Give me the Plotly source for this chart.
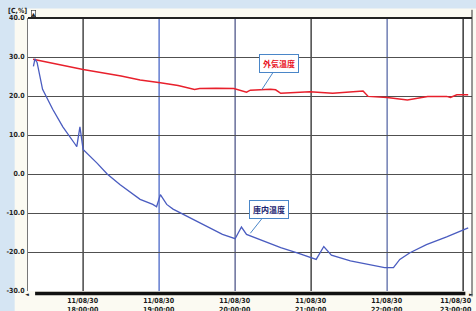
import plotly.graph_objects as go

# ---------------- data ----------------
red_times = ["2011-08-30 17:20:30", "2011-08-30 17:40", "2011-08-30 18:00", "2011-08-30 18:30",
             "2011-08-30 18:45", "2011-08-30 19:01", "2011-08-30 19:15", "2011-08-30 19:28",
             "2011-08-30 19:32", "2011-08-30 19:45", "2011-08-30 19:59", "2011-08-30 20:09",
             "2011-08-30 20:12", "2011-08-30 20:28", "2011-08-30 20:32", "2011-08-30 20:36",
             "2011-08-30 20:59", "2011-08-30 21:17", "2011-08-30 21:41", "2011-08-30 21:45",
             "2011-08-30 22:00", "2011-08-30 22:16", "2011-08-30 22:32", "2011-08-30 22:47",
             "2011-08-30 22:50", "2011-08-30 22:55", "2011-08-30 23:04"]
red_values = [29.4, 28.1, 26.8, 25.1,
              24.1, 23.4, 22.7, 21.7,
              21.9, 22.0, 21.9, 21.0,
              21.5, 21.7, 21.6, 20.7,
              21.1, 20.7, 21.3, 19.9,
              19.6, 19.0, 19.9, 19.9,
              19.6, 20.3, 20.3]

blue_times = ["2011-08-30 17:20:47", "2011-08-30 17:22", "2011-08-30 17:23:40", "2011-08-30 17:28",
              "2011-08-30 17:36", "2011-08-30 17:44", "2011-08-30 17:54", "2011-08-30 17:55",
              "2011-08-30 17:57:30", "2011-08-30 17:59:30", "2011-08-30 18:00", "2011-08-30 18:11",
              "2011-08-30 18:19", "2011-08-30 18:29", "2011-08-30 18:45", "2011-08-30 18:55",
              "2011-08-30 18:58", "2011-08-30 19:01", "2011-08-30 19:06", "2011-08-30 19:11",
              "2011-08-30 19:24", "2011-08-30 19:38", "2011-08-30 19:50", "2011-08-30 20:00",
              "2011-08-30 20:05", "2011-08-30 20:09", "2011-08-30 20:22", "2011-08-30 20:36",
              "2011-08-30 20:49", "2011-08-30 21:02", "2011-08-30 21:04", "2011-08-30 21:10",
              "2011-08-30 21:16", "2011-08-30 21:31", "2011-08-30 21:44", "2011-08-30 21:58",
              "2011-08-30 22:05", "2011-08-30 22:10", "2011-08-30 22:18", "2011-08-30 22:31",
              "2011-08-30 22:47", "2011-08-30 23:04"]
blue_values = [27.6, 29.5, 28.6, 21.7,
               16.6, 12.1, 7.5, 7.0,
               12.1, 7.3, 6.3, 2.8,
               0.0, -2.7, -6.5, -7.8,
               -8.4, -5.3, -7.8, -9.0,
               -11.2, -13.4, -15.5, -16.6,
               -13.6, -15.5, -17.2, -18.9,
               -20.2, -21.7, -21.9, -18.6,
               -20.8, -22.3, -23.1, -24.0,
               -24.0, -21.9, -20.2, -18.1,
               -16.1, -13.8]

y_tick_vals = [40, 30, 20, 10, 0, -10, -20, -30]
y_tick_text = ["40.0", "30.0", "20.0", "10.0", "0.0", "-10.0", "-20.0", "-30.0"]

x_tick_times = ["2011-08-30 18:00", "2011-08-30 19:00", "2011-08-30 20:00",
                "2011-08-30 21:00", "2011-08-30 22:00", "2011-08-30 23:00"]
x_tick_labels = ["11/08/30<br>18:00:00", "11/08/30<br>19:00:00", "11/08/30<br>20:00:00",
                 "11/08/30<br>21:00:00", "11/08/30<br>22:00:00", "11/08/30<br>23:00:00"]
vgrid_colors = ["#2a2a2a", "#4a68c8", "#50588a", "#2a2a2a", "#5a6aa8", "#1a1a1a"]

outside_label = "外気温度"
inside_label = "庫内温度"

# ---------------- figure ----------------
fig = go.Figure()

fig.add_shape(type="rect", xref="paper", yref="paper", x0=-0.03, x1=1.02, y0=-0.08, y1=1.035,
              fillcolor="#fbfaf2", line=dict(width=0), layer="below")
fig.add_shape(type="rect", xref="paper", yref="paper", x0=0, x1=1, y0=0, y1=1,
              fillcolor="white", line=dict(width=0), layer="below")

for t, c in zip(x_tick_times, vgrid_colors):
    fig.add_shape(type="line", xref="x", yref="paper", x0=t, x1=t, y0=0, y1=1,
                  line=dict(color=c, width=1.3), layer="below")

fig.add_trace(go.Scatter(x=red_times, y=red_values, mode="lines",
                         line=dict(color="#e8202c", width=1.5), name=outside_label))
fig.add_trace(go.Scatter(x=blue_times, y=blue_values, mode="lines",
                         line=dict(color="#4a5cc0", width=1.3), name=inside_label))

fig.add_shape(type="line", xref="paper", yref="paper", x0=0, x1=1, y0=1, y1=1,
              line=dict(color="#222", width=2))
fig.add_shape(type="rect", xref="paper", yref="paper", x0=0.016, x1=0.985, y0=-0.016, y1=-0.003,
              fillcolor="#111", line=dict(width=0))
fig.add_shape(type="line", xref="paper", yref="paper", x0=1.0, x1=1.0, y0=-0.02, y1=1.03,
              line=dict(color="#333", width=1))

label_font = dict(size=7, color="#1a1a1a",
                  family="DejaVu Sans Condensed, Liberation Sans Narrow, sans-serif")
annotations = []
for t, lab in zip(x_tick_times, x_tick_labels):
    shift = -7 if t == x_tick_times[-1] else 0
    annotations.append(dict(x=t, y=-0.016, xref="x", yref="paper",
                            text="<b>" + lab.replace("<br>", "</b><br><b>") + "</b>",
                            showarrow=False, xanchor="center", yanchor="top", xshift=shift,
                            font=label_font, align="center"))

annotations.append(dict(x=-0.05, y=1.003, xref="paper", yref="paper", text="<b>[C,%]</b>",
                        showarrow=False, xanchor="left", yanchor="bottom", font=label_font))
annotations.append(dict(x=0.006, y=1.003, xref="paper", yref="paper", text="<b>▲</b>",
                        showarrow=False, xanchor="left", yanchor="bottom",
                        font=dict(size=5, color="#222", family="DejaVu Sans"),
                        bordercolor="#222", borderwidth=0.6, borderpad=0, bgcolor="white"))
annotations.append(dict(x=-0.012, y=-0.012, xref="paper", yref="paper", text="◄",
                        showarrow=False, xanchor="left", yanchor="middle",
                        font=dict(size=5, color="#222", family="DejaVu Sans")))
annotations.append(dict(x=0.988, y=-0.01, xref="paper", yref="paper", text="►",
                        showarrow=False, xanchor="left", yanchor="middle",
                        font=dict(size=5, color="#222", family="DejaVu Sans")))

annotations.append(dict(x="2011-08-30 20:21", y=21.6, xref="x", yref="y",
                        text="<b>" + outside_label + "</b>", showarrow=True, arrowhead=0,
                        arrowcolor="#4a86c8", arrowwidth=1, ax=17, ay=-26,
                        font=dict(size=8, color="#e8101c", family="Noto Sans CJK JP"),
                        bgcolor="white", bordercolor="#4a86c8", borderwidth=1, borderpad=3))
annotations.append(dict(x="2011-08-30 20:12", y=-15.2, xref="x", yref="y",
                        text="<b>" + inside_label + "</b>", showarrow=True, arrowhead=0,
                        arrowcolor="#4a86c8", arrowwidth=1, ax=19, ay=-24,
                        font=dict(size=8, color="#1a2470", family="Noto Sans CJK JP"),
                        bgcolor="white", bordercolor="#4a86c8", borderwidth=1, borderpad=3))

fig.update_layout(
    width=476, height=311,
    margin=dict(l=28, r=4, t=18, b=20),
    paper_bgcolor="#d5e5f3",
    plot_bgcolor="rgba(0,0,0,0)",
    showlegend=False,
    hovermode=False,
    annotations=annotations,
    xaxis=dict(type="date", range=["2011-08-30 17:16:30", "2011-08-30 23:07:00"],
               showgrid=False, showticklabels=False, zeroline=False, showline=False, ticks=""),
    yaxis=dict(range=[-30, 40], tickvals=y_tick_vals, ticktext=["<b>" + s + "</b>" for s in y_tick_text],
               showgrid=True, gridcolor="#505050", gridwidth=1, zeroline=False,
               showline=True, linecolor="#777", linewidth=1, ticks="",
               tickfont=dict(size=7, color="#222", family="DejaVu Sans Condensed, sans-serif"),
               ticklabelstandoff=1),
)

fig.write_html("out.html", config={"displayModeBar": False},
               post_script="document.body.style.margin='0';document.body.style.overflow='hidden';")
